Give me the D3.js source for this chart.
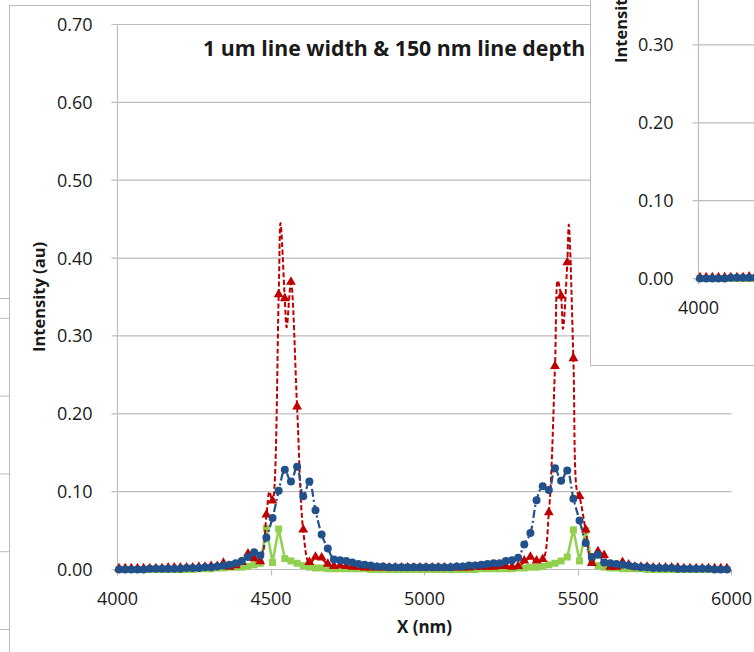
<!DOCTYPE html>
<html>
<head>
<meta charset="utf-8">
<script src="https://cdn.jsdelivr.net/npm/d3@7"></script>
<style>
body{margin:0;background:#fff;}
svg{display:block;font-family:"Open Sans",sans-serif;}
</style>
</head>
<body>
<div id="chart"></div>
<script>
// x positions (nm)
var xs = [
 4005,4025,4045,4065,4085,4105,4125,4145,4165,4185,
 4205,4225,4245,4265,4285,4305,4325,4345,4365,4385,
 4405,4425,4445,4465,4485,4505,4525,4545,4565,4585,
 4605,4625,4645,4665,4685,4705,4725,4745,4765,4785,
 4805,4825,4845,4865,4885,4905,4925,4945,4965,4985,
 5005,5025,5045,5065,5085,5105,5125,5145,5165,5185,
 5205,5225,5245,5265,5285,5305,5325,5345,5365,5385,
 5405,5425,5445,5465,5485,5505,5525,5545,5565,5585,
 5605,5625,5645,5665,5685,5705,5725,5745,5765,5785,
 5805,5825,5845,5865,5885,5905,5925,5945,5965,5985
];
// blue circles
var blueVals = [
 0.000,0.000,0.000,0.000,0.000,0.001,0.001,0.001,0.001,0.001,
 0.001,0.002,0.002,0.002,0.003,0.003,0.004,0.005,0.006,0.008,
 0.011,0.016,0.022,0.018,0.041,0.066,0.101,0.128,0.113,0.132,
 0.094,0.113,0.076,0.045,0.027,0.013,0.012,0.011,0.009,0.007,
 0.006,0.005,0.004,0.004,0.003,0.003,0.003,0.003,0.003,0.003,
 0.003,0.003,0.003,0.003,0.003,0.004,0.004,0.005,0.005,0.006,
 0.007,0.008,0.008,0.011,0.012,0.015,0.032,0.047,0.089,0.107,
 0.102,0.130,0.114,0.127,0.091,0.063,0.034,0.016,0.019,0.009,
 0.008,0.007,0.006,0.005,0.004,0.003,0.003,0.002,0.002,0.002,
 0.002,0.001,0.001,0.001,0.001,0.001,0.001,0.000,0.000,0.000
];
// red triangles
var redVals = [
 0.000,0.000,0.000,0.000,0.000,0.000,0.000,0.000,0.001,0.001,
 0.001,0.001,0.001,0.002,0.002,0.003,0.003,0.007,0.002,0.004,
 0.008,0.019,0.013,0.009,0.069,0.087,0.352,0.347,0.368,0.208,
 0.050,0.008,0.015,0.014,0.006,0.003,0.004,0.003,0.002,0.002,
 0.001,0.001,0.001,0.001,0.001,0.001,0.001,0.001,0.001,0.001,
 0.001,0.001,0.001,0.001,0.001,0.001,0.001,0.001,0.002,0.002,
 0.002,0.002,0.003,0.003,0.002,0.003,0.010,0.015,0.010,0.012,
 0.072,0.260,0.350,0.393,0.270,0.093,0.050,0.007,0.022,0.017,
 0.002,0.002,0.008,0.005,0.002,0.002,0.002,0.001,0.001,0.001,
 0.001,0.001,0.000,0.000,0.000,0.000,0.000,0.000,0.000,0.000
];
// green squares
var greenVals = [
 0.000,0.000,0.000,0.000,0.000,0.000,0.000,0.000,0.000,0.000,
 0.000,0.000,0.000,0.001,0.001,0.001,0.002,0.002,0.003,0.003,
 0.003,0.004,0.006,0.008,0.053,0.009,0.052,0.014,0.011,0.008,
 0.005,0.003,0.002,0.002,0.001,0.001,0.001,0.001,0.001,0.001,
 0.001,0.000,0.000,0.000,0.000,0.000,0.000,0.000,0.000,0.000,
 0.000,0.000,0.000,0.000,0.000,0.000,0.000,0.000,0.000,0.001,
 0.001,0.001,0.001,0.001,0.001,0.002,0.002,0.003,0.003,0.004,
 0.006,0.008,0.011,0.016,0.051,0.011,0.050,0.010,0.005,0.003,
 0.002,0.002,0.001,0.001,0.001,0.001,0.000,0.000,0.000,0.000,
 0.000,0.000,0.000,0.000,0.000,0.000,0.000,0.000,0.000,0.000
];
// extra points on the red dashed curve (finer sampling near the peaks)
var redExtraX = [4495,4531,4551,5434,5451,5470,5497];
var redExtraV = [0.100,0.445,0.311,0.371,0.309,0.443,0.100];

var yTicks = [0,0.1,0.2,0.3,0.4,0.5,0.6,0.7];
var xTicks = [4000,4500,5000,5500,6000];
var insetYTicks = [0,0.1,0.2,0.3];
var backGrid = [0,0.1,0.2,0.3,0.4];
var chartTitle = '1 um line width & 150 nm line depth';
var yTitle = 'Intensity (au)';
var xTitle = 'X (nm)';

var W = 754, H = 652;
var gridCol = '#BDBDBD', frameCol = '#BBBBBB', txt = '#1a1a1a';
var blueCol = '#21508A', redCol = '#C00000', greenCol = '#92D050';

var svg = d3.select('#chart').append('svg').attr('width',W).attr('height',H);

// ---- chart lying behind on the left (only a strip is visible)
var yBack = d3.scaleLinear().domain([0,0.7]).range([629.5, 85]);
svg.selectAll('line.back').data(backGrid).enter().append('line')
   .attr('class','back')
   .attr('x1',0).attr('x2',9)
   .attr('y1',function(d){return yBack(d);}).attr('y2',function(d){return yBack(d);})
   .attr('stroke',gridCol);
svg.append('line').attr('x1',0).attr('x2',9).attr('y1',298.5).attr('y2',298.5).attr('stroke',frameCol);

// ---- main chart
svg.append('rect').attr('x',9.5).attr('y',5.5).attr('width',900).attr('height',900)
   .attr('fill','#fff').attr('stroke',frameCol);

var x = d3.scaleLinear().domain([4000,6000]).range([117.5,731.5]);
var y = d3.scaleLinear().domain([0,0.7]).range([569.5,24.5]);

function drawChart(g, x, y, yTickVals, xTickVals, xMax){
  g.selectAll('line.grid').data(yTickVals).enter().append('line')
   .attr('class','grid')
   .attr('x1',x.range()[0]-6).attr('x2',xMax)
   .attr('y1',function(d){return y(d);}).attr('y2',function(d){return y(d);})
   .attr('stroke',gridCol).attr('stroke-width',1.2);
  g.append('line').attr('x1',x.range()[0]).attr('x2',x.range()[0])
   .attr('y1',y.range()[1]).attr('y2',y.range()[0]).attr('stroke',gridCol).attr('stroke-width',1.2);
  g.selectAll('line.xt').data(xTickVals).enter().append('line')
   .attr('class','xt')
   .attr('x1',function(d){return Math.round(x(d)-0.5)+0.5;}).attr('x2',function(d){return Math.round(x(d)-0.5)+0.5;})
   .attr('y1',y(0)).attr('y2',y(0)+6).attr('stroke',gridCol).attr('stroke-width',1.2);
  g.selectAll('text.yl').data(yTickVals).enter().append('text')
   .attr('class','yl')
   .attr('x',x.range()[0]-25).attr('y',function(d){return y(d)+6.5;})
   .attr('text-anchor','end').attr('font-size',18).attr('fill',txt)
   .text(function(d){return d3.format('.2f')(d);});
  g.selectAll('text.xl').data(xTickVals).enter().append('text')
   .attr('class','xl')
   .attr('x',function(d){return x(d);}).attr('y',y(0)+35)
   .attr('text-anchor','middle').attr('font-size',18).attr('fill',txt)
   .text(function(d){return d;});

  // series: green, red, blue
  var pts = function(vals){ return xs.map(function(d,i){return [d, vals[i]];}); };
  var lineGen = d3.line().x(function(d){return x(d[0]);}).y(function(d){return y(d[1]);});

  g.append('path').datum(pts(greenVals))
   .attr('d', lineGen.curve(d3.curveLinear))
   .attr('fill','none').attr('stroke',greenCol).attr('stroke-width',2.5);
  g.selectAll('path.gm').data(pts(greenVals)).enter().append('path')
   .attr('class','gm')
   .attr('transform',function(d){return 'translate('+x(d[0])+','+y(d[1])+')';})
   .attr('d', d3.symbol().type(d3.symbolSquare).size(49)())
   .attr('fill',greenCol);

  var redLine = pts(redVals).concat(redExtraX.map(function(d,i){return [d, redExtraV[i]];}))
                 .sort(function(a,b){return a[0]-b[0];});
  g.append('path').datum(redLine)
   .attr('d', lineGen.curve(d3.curveCatmullRom.alpha(0.5)))
   .attr('fill','none').attr('stroke',redCol).attr('stroke-width',2)
   .attr('stroke-dasharray','5,2.5');
  g.selectAll('path.rm').data(pts(redVals)).enter().append('path')
   .attr('class','rm')
   .attr('transform',function(d){return 'translate('+x(d[0])+','+(y(d[1])-1)+')';})
   .attr('d', d3.symbol().type(d3.symbolTriangle).size(42)())
   .attr('fill',redCol);

  g.append('path').datum(pts(blueVals))
   .attr('d', lineGen.curve(d3.curveCatmullRom.alpha(0.5)))
   .attr('fill','none').attr('stroke',blueCol).attr('stroke-width',2.2)
   .attr('stroke-dasharray','8,3,2,3');
  g.selectAll('circle.bm').data(pts(blueVals)).enter().append('circle')
   .attr('class','bm')
   .attr('cx',function(d){return x(d[0]);}).attr('cy',function(d){return y(d[1]);})
   .attr('r',4).attr('fill',blueCol);
}

var main = svg.append('g');
drawChart(main, x, y, yTicks, xTicks, x.range()[1]);

main.append('text').attr('x',203).attr('y',56)
    .attr('font-size',21.3).attr('font-weight','bold').attr('fill',txt).text(chartTitle);
main.append('text').attr('transform','translate(45,'+((y(0)+y(0.7))/2)+') rotate(-90)')
    .attr('text-anchor','middle').attr('font-size',16.5).attr('font-weight','bold').attr('fill',txt)
    .text(yTitle);
main.append('text').attr('x',x(5000)).attr('y',633)
    .attr('text-anchor','middle').attr('font-size',17).attr('font-weight','bold').attr('fill',txt)
    .text(xTitle);

// ---- chart lying on top, at the upper right
var inset = svg.append('g');
inset.append('rect').attr('x',590.5).attr('y',-10).attr('width',300).attr('height',375.5)
     .attr('fill','#fff').attr('stroke',frameCol);
svg.append('clipPath').attr('id','insetClip').append('rect')
   .attr('x',591).attr('y',0).attr('width',200).attr('height',365);
var insetInner = inset.append('g').attr('clip-path','url(#insetClip)');
var xi = d3.scaleLinear().domain([4000,6000]).range([698.5,1312.5]);
var yi = d3.scaleLinear().domain([0,0.7]).range([278.5,-266.5]);
drawChart(insetInner, xi, yi, insetYTicks, [4000], W);
insetInner.append('text').attr('transform','translate(627,63) rotate(-90)')
    .attr('text-anchor','start').attr('font-size',16.5).attr('font-weight','bold').attr('fill',txt)
    .text(yTitle);
</script>
</body>
</html>
